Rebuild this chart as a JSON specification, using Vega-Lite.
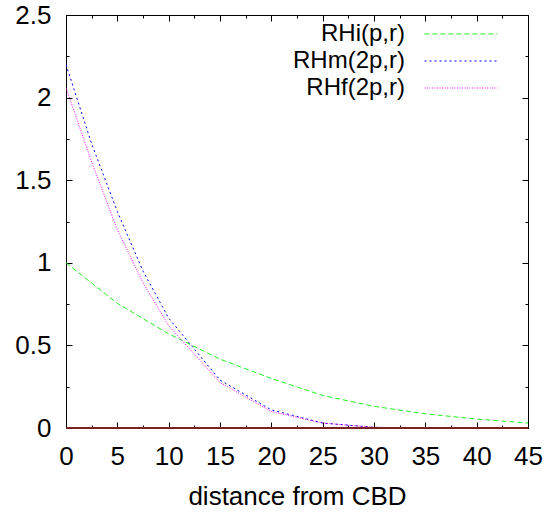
{
  "$schema": "https://vega.github.io/schema/vega-lite/v6.json",
  "width": 462,
  "height": 413,
  "autosize": "none",
  "padding": {"left": 66, "top": 15, "right": 17, "bottom": 89},
  "background": "white",
  "config": {
    "view": {"stroke": "black", "strokeWidth": 1},
    "font": "Liberation Sans",
    "axis": {"grid": false, "domainColor": "black", "tickColor": "black", "labelColor": "black", "titleColor": "black", "labelFont": "Liberation Sans", "titleFont": "Liberation Sans"}
  },
  "datasets": {
    "curves": [
      {"series": "RHi(p,r)", "x": 0, "y": 1.0},
      {"series": "RHi(p,r)", "x": 5, "y": 0.755},
      {"series": "RHi(p,r)", "x": 10, "y": 0.57},
      {"series": "RHi(p,r)", "x": 15, "y": 0.417},
      {"series": "RHi(p,r)", "x": 20, "y": 0.3},
      {"series": "RHi(p,r)", "x": 25, "y": 0.197},
      {"series": "RHi(p,r)", "x": 30, "y": 0.131},
      {"series": "RHi(p,r)", "x": 35, "y": 0.086},
      {"series": "RHi(p,r)", "x": 40, "y": 0.054},
      {"series": "RHi(p,r)", "x": 45, "y": 0.03},
      {"series": "RHm(2p,r)", "x": 0, "y": 2.2},
      {"series": "RHm(2p,r)", "x": 2.5, "y": 1.72},
      {"series": "RHm(2p,r)", "x": 5, "y": 1.31},
      {"series": "RHm(2p,r)", "x": 7.5, "y": 0.95},
      {"series": "RHm(2p,r)", "x": 10, "y": 0.665},
      {"series": "RHm(2p,r)", "x": 15, "y": 0.29},
      {"series": "RHm(2p,r)", "x": 20, "y": 0.11},
      {"series": "RHm(2p,r)", "x": 25, "y": 0.03},
      {"series": "RHm(2p,r)", "x": 30, "y": 0.004},
      {"series": "RHm(2p,r)", "x": 35, "y": 0},
      {"series": "RHm(2p,r)", "x": 40, "y": 0},
      {"series": "RHm(2p,r)", "x": 45, "y": 0},
      {"series": "RHf(2p,r)", "x": 0, "y": 2.06},
      {"series": "RHf(2p,r)", "x": 2.5, "y": 1.61},
      {"series": "RHf(2p,r)", "x": 5, "y": 1.2},
      {"series": "RHf(2p,r)", "x": 7.5, "y": 0.88},
      {"series": "RHf(2p,r)", "x": 10, "y": 0.62},
      {"series": "RHf(2p,r)", "x": 15, "y": 0.275},
      {"series": "RHf(2p,r)", "x": 20, "y": 0.1},
      {"series": "RHf(2p,r)", "x": 25, "y": 0.03},
      {"series": "RHf(2p,r)", "x": 30, "y": 0.004},
      {"series": "RHf(2p,r)", "x": 35, "y": 0},
      {"series": "RHf(2p,r)", "x": 40, "y": 0},
      {"series": "RHf(2p,r)", "x": 45, "y": 0}
    ],
    "base": [
      {"series": "base", "x": 0, "y": 0},
      {"series": "base", "x": 45, "y": 0}
    ]
  },
  "layer": [
    {
      "data": {"name": "curves"},
      "mark": {"type": "line", "strokeWidth": 1, "clip": true},
      "encoding": {
        "x": {"field": "x", "type": "quantitative", "scale": {"domain": [0, 45], "nice": false, "zero": false},
          "axis": {"orient": "bottom", "values": [0,2.5,5,7.5,10,12.5,15,17.5,20,22.5,25,27.5,30,32.5,35,37.5,40,42.5,45],
            "labelExpr": "datum.value % 5 === 0 ? format(datum.value, '~g') : ''",
            "tickSize": {"condition": {"test": "datum.value % 5 === 0", "value": -6}, "value": -3},
            "labelFontSize": 26, "labelPadding": 21, "labelFlush": false, "labelOverlap": false,
            "title": "distance from CBD", "titleFontSize": 26, "titleFontWeight": "normal", "titlePadding": 11}},
        "y": {"field": "y", "type": "quantitative", "scale": {"domain": [0, 2.5], "nice": false},
          "axis": {"orient": "left", "values": [0,0.25,0.5,0.75,1,1.25,1.5,1.75,2,2.25,2.5],
            "labelExpr": "round(datum.value*100) % 50 === 0 ? format(datum.value, '~g') : ''",
            "tickSize": {"condition": {"test": "round(datum.value*100) % 50 === 0", "value": -6}, "value": -3},
            "labelFontSize": 26, "labelPadding": 21, "labelFlush": false, "labelOverlap": false, "title": null}},
        "color": {"field": "series", "type": "nominal",
          "scale": {"domain": ["RHi(p,r)", "RHm(2p,r)", "RHf(2p,r)"], "range": ["#22ee22", "#0000ff", "#ff00ff"]},
          "legend": {"orient": "none", "legendX": 383, "legendY": 7, "title": null, "padding": 0,
            "symbolType": "M-5,0H5", "symbolSize": 213, "symbolStrokeWidth": 1.2, "symbolFillColor": "transparent",
            "labelFontSize": 24, "labelAlign": "right", "labelOffset": -68, "rowPadding": 3, "labelColor": "black"}},
        "strokeDash": {"field": "series", "type": "nominal",
          "scale": {"domain": ["RHi(p,r)", "RHm(2p,r)", "RHf(2p,r)"], "range": [[5, 3], [2, 3], [1, 1.5]]}}
      }
    },
    {
      "data": {"name": "base"},
      "mark": {"type": "line", "strokeWidth": 2, "color": "#7a2222"},
      "encoding": {
        "x": {"field": "x", "type": "quantitative",
          "axis": {"orient": "top", "values": [0,2.5,5,7.5,10,12.5,15,17.5,20,22.5,25,27.5,30,32.5,35,37.5,40,42.5,45],
            "labels": false, "title": null,
            "tickSize": {"condition": {"test": "datum.value % 5 === 0", "value": -6}, "value": -3}}},
        "y": {"field": "y", "type": "quantitative",
          "axis": {"orient": "right", "values": [0,0.25,0.5,0.75,1,1.25,1.5,1.75,2,2.25,2.5],
            "labels": false, "title": null,
            "tickSize": {"condition": {"test": "round(datum.value*100) % 50 === 0", "value": -6}, "value": -3}}}
      }
    }
  ],
  "resolve": {"axis": {"x": "independent", "y": "independent"}}
}
